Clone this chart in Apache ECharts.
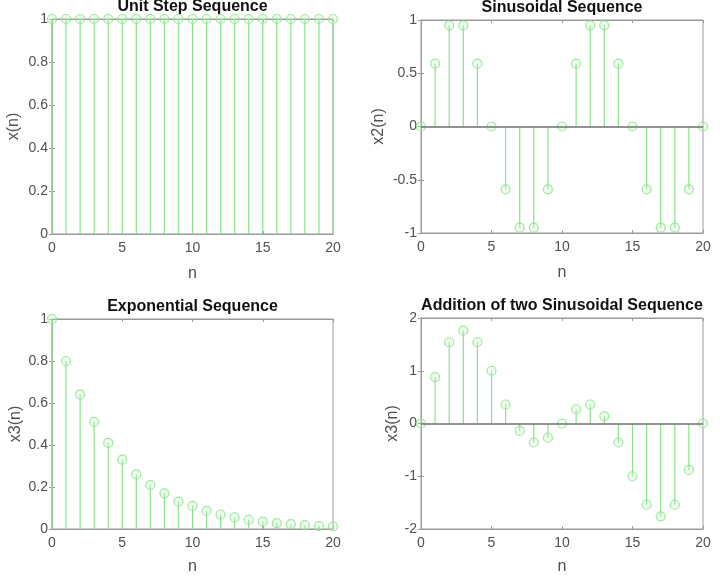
<!DOCTYPE html>
<html>
<head>
<meta charset="utf-8">
<script src="https://cdn.jsdelivr.net/npm/echarts@6/dist/echarts.min.js"></script>
<style>
  html, body { margin: 0; padding: 0; background: #fff; }
  #chart { width: 720px; height: 576px; }
</style>
</head>
<body>
<div id="chart"></div>
<script>
"use strict";

// sample index
const n = [0, 1, 2, 3, 4, 5, 6, 7, 8, 9, 10, 11, 12, 13, 14, 15, 16, 17, 18, 19, 20];

// values
const unitStep = [1, 1, 1, 1, 1, 1, 1, 1, 1, 1, 1, 1, 1, 1, 1, 1, 1, 1, 1, 1, 1];
const sinusoid = [0, 0.59, 0.95, 0.95, 0.59, 0, -0.59, -0.95, -0.95, -0.59, 0,
  0.59, 0.95, 0.95, 0.59, 0, -0.59, -0.95, -0.95, -0.59, 0];
const expo = [1, 0.8, 0.64, 0.51, 0.41, 0.33, 0.26, 0.21, 0.17, 0.13, 0.11,
  0.086, 0.069, 0.055, 0.044, 0.035, 0.028, 0.023, 0.018, 0.014, 0.012];
const sumSin = [0, 0.88, 1.54, 1.76, 1.54, 1.0, 0.36, -0.14, -0.36, -0.27, 0,
  0.27, 0.36, 0.14, -0.36, -1.0, -1.54, -1.76, -1.54, -0.88, 0];

const titles = ["Unit Step Sequence", "Sinusoidal Sequence",
  "Exponential Sequence", "Addition of two Sinusoidal Sequence"];
const yNames = ["x(n)", "x2(n)", "x3(n)", "x3(n)"];
const yRanges = [[0, 1, 0.2], [-1, 1, 0.5], [0, 1, 0.2], [-2, 2, 1]];

const panels = [unitStep, sinusoid, expo, sumSin];

const GREEN = "#88e488";
const AXIS = "#9a9a9a";
const TEXT = "#505050";
const FONT = "'Liberation Sans', Arial, sans-serif";

const chart = echarts.init(document.getElementById("chart"));

const gridPos = [
  { left: 52, top: 19, width: 281, height: 215 },
  { left: 421, top: 20, width: 282, height: 213 },
  { left: 52, top: 319, width: 281, height: 213 },
  { left: 421, top: 318, width: 282, height: 214 },
];
const yGaps = [30, 34, 28, 19];
const xGaps = [32, 32, 30, 30];

const grid = [];
const xAxis = [];
const yAxis = [];
const series = [];
const graphic = [];

panels.forEach((vals, i) => {
  const g = gridPos[i];
  grid.push({ ...g, show: true, borderColor: AXIS, borderWidth: 1, backgroundColor: "#fff" });

  const [ymin, ymax, yint] = yRanges[i];

  // bottom / left axes with labels
  xAxis.push({
    gridIndex: i, type: "value", min: 0, max: 20, interval: 5,
    name: "n", nameLocation: "middle", nameGap: xGaps[i],
    nameTextStyle: { color: TEXT, fontSize: 16, fontFamily: FONT },
    axisLine: { onZero: false, lineStyle: { color: AXIS } },
    axisTick: { inside: true, length: 3, lineStyle: { color: AXIS } },
    axisLabel: { color: TEXT, fontSize: 14, fontFamily: FONT, margin: 7 },
    splitLine: { show: false },
  });
  yAxis.push({
    gridIndex: i, type: "value", min: ymin, max: ymax, interval: yint,
    name: yNames[i], nameLocation: "middle", nameGap: yGaps[i],
    nameTextStyle: { color: TEXT, fontSize: 16, fontFamily: FONT },
    axisLine: { show: true, lineStyle: { color: AXIS } },
    axisTick: { inside: true, length: 3, lineStyle: { color: AXIS } },
    axisLabel: { color: TEXT, fontSize: 14, fontFamily: FONT, margin: 4 },
    splitLine: { show: false },
  });
  // mirrored top / right axes (box ticks)
  xAxis.push({
    gridIndex: i, type: "value", position: "top", min: 0, max: 20, interval: 5,
    axisLine: { onZero: false, lineStyle: { color: AXIS } },
    axisTick: { inside: true, length: 3, lineStyle: { color: AXIS } },
    axisLabel: { show: false }, splitLine: { show: false },
  });
  yAxis.push({
    gridIndex: i, type: "value", position: "right", min: ymin, max: ymax, interval: yint,
    axisLine: { show: true, lineStyle: { color: AXIS } },
    axisTick: { inside: true, length: 3, lineStyle: { color: AXIS } },
    axisLabel: { show: false }, splitLine: { show: false },
  });

  const data = n.map((k, j) => [k, vals[j]]);
  const hasBaseline = ymin < 0;

  // stems
  series.push({
    type: "custom",
    xAxisIndex: i * 2, yAxisIndex: i * 2,
    data,
    renderItem(params, api) {
      const p0 = api.coord([api.value(0), 0]);
      const p1 = api.coord([api.value(0), api.value(1)]);
      return {
        type: "line",
        shape: { x1: p0[0], y1: p0[1], x2: p1[0], y2: p1[1] },
        style: { stroke: GREEN, lineWidth: 1.2 },
      };
    },
    markLine: hasBaseline ? {
      silent: true, symbol: "none", label: { show: false },
      lineStyle: { color: "#707070", width: 1.5, type: "solid" },
      data: [{ yAxis: 0 }],
    } : undefined,
    z: 2,
  });
  // stem heads
  series.push({
    type: "scatter",
    xAxisIndex: i * 2, yAxisIndex: i * 2,
    data,
    symbol: "circle", symbolSize: 9,
    itemStyle: { color: "rgba(200,245,200,0.35)", borderColor: GREEN, borderWidth: 1.2 },
    z: 3,
  });

  graphic.push({
    type: "text",
    x: g.left + g.width / 2,
    y: g.top - 12,
    style: {
      text: titles[i], fill: "#111", font: "bold 16px " + FONT,
      textAlign: "center", textVerticalAlign: "middle",
    },
    z: 10,
  });
});

chart.setOption({
  animation: false,
  backgroundColor: "#fff",
  grid, xAxis, yAxis, series, graphic,
});
</script>
</body>
</html>
